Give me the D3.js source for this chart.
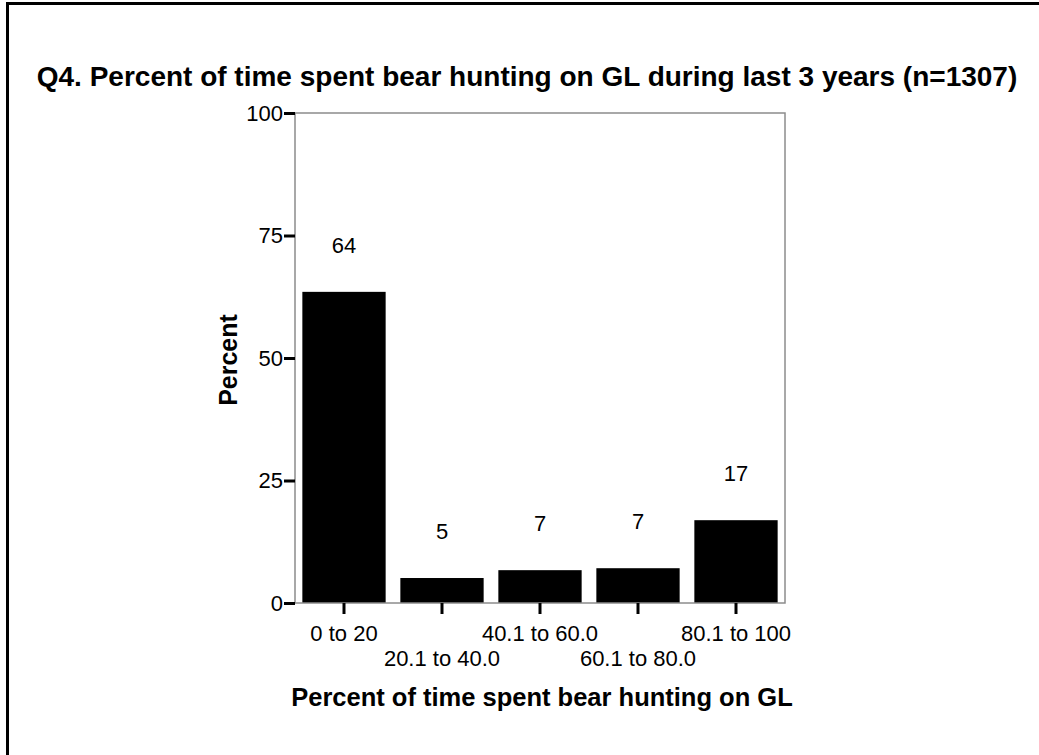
<!DOCTYPE html>
<html>
<head>
<meta charset="utf-8">
<script src="https://cdn.jsdelivr.net/npm/d3@7"></script>
<style>
  body { margin: 0; background: #fff; }
  text { font-family: "Liberation Sans", Arial, sans-serif; }
</style>
</head>
<body>
<div id="main"></div>
<script>
var categories = ['0 to 20', '20.1 to 40.0', '40.1 to 60.0', '60.1 to 80.0', '80.1 to 100']
var percents = [63.5, 5.1, 6.7, 7.1, 16.9]
var value_labels = ['64', '5', '7', '7', '17']
var y_ticks = [0, 25, 50, 75, 100]

var w = 1039
var h = 755
var svg = d3.select('div#main').append('svg')
  .attr('width', w)
  .attr('height', h)
  .style('display', 'block')

// outer frame (only left and top edges show in the crop)
svg.append('path')
  .attr('d', 'M7.5,755 L7.5,3.5 L1039,3.5')
  .attr('fill', 'none')
  .attr('stroke', 'black')
  .attr('stroke-width', 3)

var plot_left = 295
var plot_right = 785
var plot_top = 113
var plot_bottom = 603

var scale_x = d3.scaleBand().domain(categories).range([plot_left, plot_right]).paddingInner(0.15).paddingOuter(0.075)
var scale_y = d3.scaleLinear().domain([0, 100]).range([plot_bottom, plot_top])

svg.append('text')
  .text('Q4. Percent of time spent bear hunting on GL during last 3 years (n=1307)')
  .attr('x', 527)
  .attr('y', 86)
  .attr('text-anchor', 'middle')
  .style('font-size', '28px')
  .style('font-weight', 'bold')

// bars
categories.forEach(function (c, idx) {
  svg.append('rect')
    .attr('x', scale_x(c))
    .attr('y', scale_y(percents[idx]))
    .attr('width', scale_x.bandwidth())
    .attr('height', plot_bottom - scale_y(percents[idx]))
    .attr('fill', 'black')
  svg.append('text')
    .text(value_labels[idx])
    .attr('x', scale_x(c) + scale_x.bandwidth() / 2)
    .attr('y', scale_y(percents[idx]) - 39)
    .attr('text-anchor', 'middle')
    .style('font-size', '22px')
})

// frame of the plot
svg.append('rect')
  .attr('x', plot_left)
  .attr('y', plot_top)
  .attr('width', plot_right - plot_left)
  .attr('height', plot_bottom - plot_top)
  .attr('fill', 'none')
  .attr('stroke', '#8c8c8c')
  .attr('stroke-width', 1.5)

// y axis
var y_axis = d3.axisLeft(scale_y).tickValues(y_ticks).tickSize(11).tickPadding(1)
var gy = svg.append('g').attr('transform', 'translate(' + plot_left + ',0)').call(y_axis)
gy.select('.domain').remove()
gy.selectAll('.tick line').attr('stroke', 'black').attr('stroke-width', 3)
gy.selectAll('.tick text')
  .style('font-size', '22px')
  .style('font-family', '"Liberation Sans", Arial, sans-serif')
  .attr('fill', 'black')

// x axis
var x_axis = d3.axisBottom(scale_x).tickSize(11).tickPadding(0)
var gx = svg.append('g').attr('transform', 'translate(0,' + plot_bottom + ')').call(x_axis)
gx.select('.domain').remove()
gx.selectAll('.tick line').attr('stroke', 'black').attr('stroke-width', 3)
gx.selectAll('.tick text')
  .style('font-size', '22px')
  .style('font-family', '"Liberation Sans", Arial, sans-serif')
  .attr('fill', 'black')
  .attr('dy', null)
  .attr('y', function (d, i) { return i % 2 === 0 ? 38 : 63 })

svg.append('text')
  .text('Percent of time spent bear hunting on GL')
  .attr('x', 542)
  .attr('y', 706)
  .attr('text-anchor', 'middle')
  .style('font-size', '25.5px')
  .style('font-weight', 'bold')

svg.append('text')
  .text('Percent')
  .attr('transform', 'translate(237,360) rotate(-90)')
  .attr('text-anchor', 'middle')
  .style('font-size', '25px')
  .style('font-weight', 'bold')
</script>
</body>
</html>
